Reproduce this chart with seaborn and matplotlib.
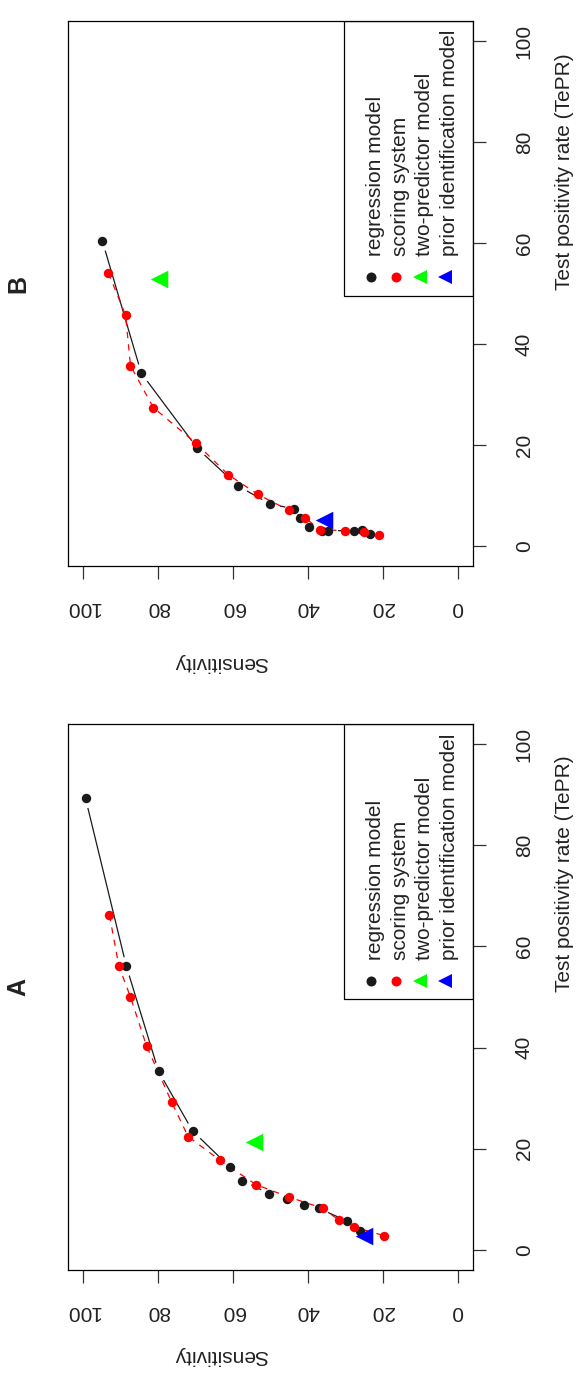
import pandas as pd
import matplotlib
matplotlib.use('Agg')
import matplotlib.pyplot as plt
import seaborn as sns
from matplotlib.patches import Rectangle

# Panel A (sensitivity %, test positivity rate %)
a_reg_sens = [99.4, 88.5, 79.9, 70.8, 60.9, 57.5, 50.3, 45.6, 41.1, 37.1, 29.6, 26.1]
a_reg_tepr = [89.3, 56.1, 35.3, 23.5, 16.4, 13.7, 11.1, 10.1, 8.8, 8.2, 5.7, 3.7]
a_score_sens = [93.0, 90.5, 87.4, 83.1, 76.4, 72.0, 63.5, 53.9, 45.0, 36.0, 31.8, 27.6, 19.7]
a_score_tepr = [66.2, 56.1, 50.0, 40.3, 29.2, 22.4, 17.7, 12.9, 10.4, 8.2, 5.9, 4.5, 2.8]
a_two_sens, a_two_tepr = [54.5], [21.4]
a_prior_sens, a_prior_tepr = [25.0], [2.8]

# Panel B
b_reg_sens = [94.9, 84.5, 69.5, 58.8, 50.1, 43.6, 42.0, 39.6, 36.3, 34.7, 27.6, 25.5, 23.5]
b_reg_tepr = [60.4, 34.2, 19.3, 11.9, 8.3, 7.3, 5.5, 3.8, 3.0, 3.0, 3.0, 3.1, 2.4]
b_score_sens = [93.3, 88.7, 87.4, 81.3, 70.0, 61.3, 53.4, 45.0, 40.8, 36.9, 30.1, 24.9, 20.9]
b_score_tepr = [54.1, 45.7, 35.7, 27.4, 20.4, 14.1, 10.2, 7.0, 5.6, 3.2, 3.0, 2.8, 2.2]
b_two_sens, b_two_tepr = [79.7], [52.9]
b_prior_sens, b_prior_tepr = [35.8], [5.1]

ticks = [0, 20, 40, 60, 80, 100]
legend_labels = ['regression model', 'scoring system', 'two-predictor model', 'prior identification model']
legend_colors = ['#1a1a1a', '#ff0000', '#00ff00', '#0000ff']
legend_markers = ['o', 'o', '<', '<']

sns.set_theme(style='ticks')
plt.rcParams['font.family'] = ['Liberation Sans', 'DejaVu Sans']

W, H = 576, 1373
fig = plt.figure(figsize=(W / 100, H / 100), dpi=100)


def add_px_axes(left, top, right, bottom):
    return fig.add_axes([left / W, 1 - bottom / H, (right - left) / W, (bottom - top) / H])


def draw_panel(ax, reg_s, reg_t, sc_s, sc_t, two_s, two_t, pr_s, pr_t):
    reg = pd.DataFrame({'sens': reg_s, 'tepr': reg_t})
    sc = pd.DataFrame({'sens': sc_s, 'tepr': sc_t})
    two = pd.DataFrame({'sens': two_s, 'tepr': two_t})
    pr = pd.DataFrame({'sens': pr_s, 'tepr': pr_t})

    # black solid line with small gaps around its points (like R type="b")
    sns.lineplot(data=reg, x='sens', y='tepr', sort=False, estimator=None,
                 color='#1a1a1a', lw=0.9, ax=ax, zorder=1)
    sns.scatterplot(data=reg, x='sens', y='tepr', color='white', s=190,
                    linewidth=0, ax=ax, zorder=2)
    sns.lineplot(data=sc, x='sens', y='tepr', sort=False, estimator=None,
                 color='#ff0000', lw=0.9, linestyle=(0, (5, 5)), ax=ax, zorder=3)
    sns.scatterplot(data=reg, x='sens', y='tepr', color='#1a1a1a', s=46,
                    linewidth=0, ax=ax, zorder=4)
    sns.scatterplot(data=sc, x='sens', y='tepr', color='#ff0000', s=46,
                    linewidth=0, ax=ax, zorder=5)
    sns.scatterplot(data=two, x='sens', y='tepr', color='#00ff00', marker='<',
                    s=160, linewidth=0, ax=ax, zorder=6)
    sns.scatterplot(data=pr, x='sens', y='tepr', color='#0000ff', marker='<',
                    s=160, linewidth=0, ax=ax, zorder=6)

    ax.set_xlim(104, -4)
    ax.set_ylim(-4, 104)
    ax.set_xticks(ticks)
    ax.set_yticks(ticks)
    ax.set_xlabel('')
    ax.set_ylabel('')
    ax.yaxis.tick_right()
    for sp in ax.spines.values():
        sp.set_visible(True)
        sp.set_color('black')
        sp.set_linewidth(0.9)
    ax.tick_params(axis='both', direction='out', length=9.2, width=0.9,
                   color='#333333', labelsize=15, labelcolor='#222222')
    ax.tick_params(axis='x', pad=14, labelrotation=180)
    ax.tick_params(axis='y', pad=21, labelrotation=90)
    for lbl in ax.get_yticklabels():
        lbl.set_va('center')

    # legend box (bottom-right in the unrotated figure)
    ax.add_patch(Rectangle((0.681, 0.496), 0.319, 0.504, transform=ax.transAxes,
                           fill=False, lw=0.9, edgecolor='black', zorder=7))
    col_x = [0.748, 0.810, 0.869, 0.931]
    for x, lab, col, mk in zip(col_x, legend_labels, legend_colors, legend_markers):
        ms = 7.2 if mk == 'o' else 10
        ax.plot([x], [0.530], marker=mk, color=col, ms=ms, mew=0, ls='none',
                transform=ax.transAxes, clip_on=False, zorder=8)
        ax.text(x + 0.011, 0.568, lab, rotation=90, ha='center', va='bottom',
                fontsize=15, color='#222222', transform=ax.transAxes)


ax_b = add_px_axes(68.3, 21, 472.7, 566)
ax_a = add_px_axes(68.3, 724, 472.7, 1270)

draw_panel(ax_a, a_reg_sens, a_reg_tepr, a_score_sens, a_score_tepr,
           a_two_sens, a_two_tepr, a_prior_sens, a_prior_tepr)
draw_panel(ax_b, b_reg_sens, b_reg_tepr, b_score_sens, b_score_tepr,
           b_two_sens, b_two_tepr, b_prior_sens, b_prior_tepr)

# panel titles and axis labels, placed as in the rotated reference
for px, py, txt in [(18, 987, 'A'), (18, 284, 'B')]:
    fig.text(px / W, 1 - py / H, txt, rotation=90, ha='center', va='center',
             fontsize=18, fontweight='bold', color='#222222')
for py in [874, 172]:
    fig.text(564 / W, 1 - py / H, 'Test positivity rate (TePR)', rotation=90,
             ha='center', va='center', fontsize=15, color='#222222')
for py in [1355, 662]:
    fig.text(221 / W, 1 - py / H, 'Sensitivity', rotation=180,
             ha='center', va='center', fontsize=15, color='#222222')

fig.savefig('out.png', dpi=100)
